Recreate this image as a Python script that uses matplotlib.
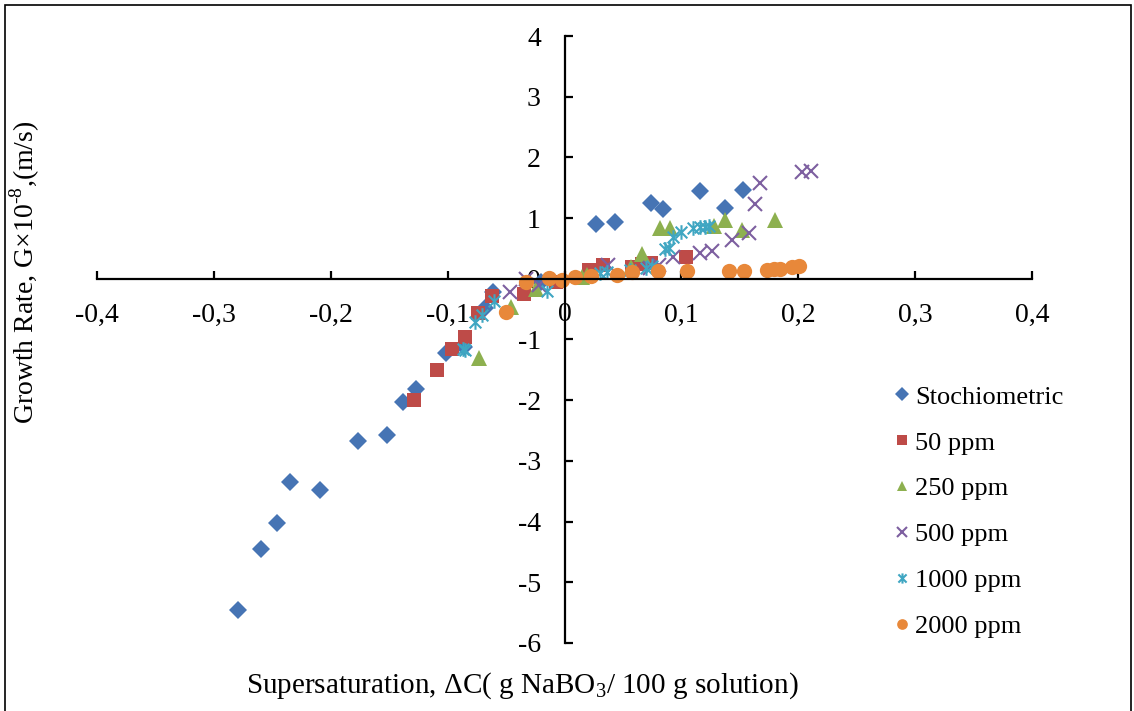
import matplotlib
matplotlib.use("Agg")
import matplotlib.pyplot as plt
from matplotlib.path import Path
from matplotlib.patches import Rectangle

plt.rcParams['font.family'] = ['Liberation Serif', 'DejaVu Serif']
plt.rcParams['mathtext.fontset'] = 'custom'
plt.rcParams['mathtext.rm'] = 'Liberation Serif'

# ---------------- data ----------------
stoch_x = [-0.279, -0.260, -0.246, -0.235, -0.209, -0.177, -0.152, -0.138, -0.127,
           -0.101, -0.086, -0.068, -0.061, -0.020, 0.027, 0.043, 0.074, 0.084,
           0.116, 0.137, 0.153]
stoch_y = [-5.45, -4.45, -4.03, -3.35, -3.48, -2.67, -2.57, -2.03, -1.81,
           -1.23, -1.12, -0.48, -0.21, -0.06, 0.91, 0.93, 1.25, 1.15,
           1.45, 1.17, 1.46]

p50_x = [-0.129, -0.109, -0.096, -0.085, -0.074, -0.062, -0.035, -0.007,
         0.021, 0.033, 0.058, 0.066, 0.074, 0.104]
p50_y = [-2.00, -1.51, -1.16, -0.96, -0.57, -0.28, -0.25, -0.05,
         0.15, 0.22, 0.20, 0.24, 0.26, 0.36]

p250_x = [-0.073, -0.046, -0.024, 0.015, 0.019, 0.057, 0.066, 0.082, 0.090,
          0.128, 0.137, 0.152, 0.180]
p250_y = [-1.31, -0.47, -0.17, 0.03, 0.07, 0.20, 0.41, 0.84, 0.84,
          0.87, 0.97, 0.80, 0.97]

p500_x = [-0.047, -0.033, -0.022, 0.037, 0.073, 0.081, 0.093, 0.116, 0.126,
          0.143, 0.158, 0.163, 0.167, 0.203, 0.211]
p500_y = [-0.21, 0.00, -0.10, 0.22, 0.18, 0.23, 0.36, 0.42, 0.46,
          0.64, 0.76, 1.23, 1.58, 1.76, 1.78]

p1000_x = [-0.087, -0.085, -0.077, -0.071, -0.060, -0.015, 0.030, 0.036, 0.056,
           0.070, 0.075, 0.086, 0.089, 0.093, 0.100, 0.110, 0.116, 0.120, 0.124]
p1000_y = [-1.15, -1.17, -0.71, -0.59, -0.36, -0.20, 0.10, 0.12, 0.15,
           0.17, 0.21, 0.49, 0.51, 0.69, 0.77, 0.83, 0.85, 0.86, 0.87]

p2000_x = [-0.050, -0.033, -0.013, -0.002, 0.009, 0.023, 0.045, 0.058, 0.080,
           0.105, 0.141, 0.154, 0.173, 0.179, 0.184, 0.195, 0.201]
p2000_y = [-0.54, -0.05, 0.02, -0.02, 0.03, 0.05, 0.07, 0.12, 0.13,
           0.13, 0.13, 0.13, 0.15, 0.16, 0.16, 0.20, 0.21]

labels = ['Stochiometric', '50 ppm', '250 ppm', '500 ppm', '1000 ppm', '2000 ppm']
colors = ['#4674B4', '#BE4B48', '#8DB04F', '#7D5FA0', '#3FA6C2', '#E8883A']

x_ticks = [-0.4, -0.3, -0.2, -0.1, 0.0, 0.1, 0.2, 0.3, 0.4]
x_ticklabels = ['-0,4', '-0,3', '-0,2', '-0,1', '0', '0,1', '0,2', '0,3', '0,4']
y_ticks = [4, 3, 2, 1, 0, -1, -2, -3, -4, -5, -6]
y_ticklabels = ['4', '3', '2', '1', '0', '-1', '-2', '-3', '-4', '-5', '-6']

# custom asterisk marker (vertical bar + X)
star = Path([(0, -1), (0, 1), (-0.8, -0.8), (0.8, 0.8), (-0.8, 0.8), (0.8, -0.8)],
            [Path.MOVETO, Path.LINETO, Path.MOVETO, Path.LINETO, Path.MOVETO, Path.LINETO])

fig = plt.figure(figsize=(11.34, 7.11), dpi=100)
ax = fig.add_axes([97/1134, 1 - 643/711, (1032-97)/1134, (643-36)/711])

series = [
    (stoch_x, stoch_y, dict(marker='D', markersize=9.5, markeredgewidth=0)),
    (p50_x, p50_y, dict(marker='s', markersize=10.5, markeredgewidth=0)),
    (p250_x, p250_y, dict(marker='^', markersize=11, markeredgewidth=0)),
    (p500_x, p500_y, dict(marker='x', markersize=10, markeredgewidth=1.5)),
    (p1000_x, p1000_y, dict(marker=star, markersize=10.5, markeredgewidth=1.5,
                            markerfacecolor='none')),
    (p2000_x, p2000_y, dict(marker='o', markersize=11, markeredgewidth=0)),
]
handles = []
for (xs, ys, kw), lab, c in zip(series, labels, colors):
    kw = dict(kw)
    if kw.get('markerfacecolor') != 'none':
        kw['markerfacecolor'] = c
    kw['markeredgecolor'] = c
    h, = ax.plot(xs, ys, linestyle='none', label=lab, **kw)
    handles.append(h)

ax.set_xlim(-0.4, 0.4)
ax.set_ylim(-6, 4)
for s in ['top', 'right']:
    ax.spines[s].set_visible(False)
ax.spines['left'].set_position(('data', 0))
ax.spines['bottom'].set_position(('data', 0))
for s in ['left', 'bottom']:
    ax.spines[s].set_linewidth(1.6)
ax.set_xticks(x_ticks)
ax.set_xticklabels(x_ticklabels)
ax.set_yticks(y_ticks)
ax.set_yticklabels(y_ticklabels)
ax.tick_params(axis='both', direction='in', length=6, width=1.6, labelsize=20)
ax.tick_params(axis='x', pad=17)
ax.tick_params(axis='y', pad=17)
ax.set_facecolor('none')

fig.text(522/1134, 1 - 686/711,
         r'Supersaturation, ΔC( g NaBO$_{\mathregular{3}}$/ 100 g solution)',
         ha='center', va='center', fontsize=21)
fig.text(25/1134, 1 - 272/711,
         'Growth Rate, G×10$^{\\mathregular{\u20108}}$,(m/s)',
         ha='center', va='center', rotation=90, fontsize=20)

leg = fig.legend(handles=handles, labels=labels, loc='upper left',
                 bbox_to_anchor=(881/1134, 1 - 372/711), frameon=False,
                 fontsize=19, markerscale=0.7, handlelength=0.6,
                 handletextpad=0.2, labelspacing=0.85, borderpad=0)

fig.patches.append(Rectangle((5/1134, -0.05), (1131-5)/1134, 1.05 - 5/711,
                             transform=fig.transFigure, fill=False,
                             edgecolor='black', linewidth=1.2))

fig.savefig('out.png', dpi=100)
